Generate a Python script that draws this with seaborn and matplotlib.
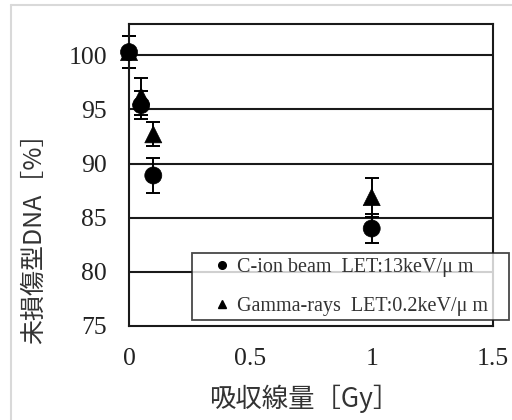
import pandas as pd
import seaborn as sns
from matplotlib import pyplot as plt
from matplotlib.lines import Line2D

# 吸収線量 [Gy]
dose = [0.0, 0.05, 0.1, 1.0]

# 未損傷型DNA [%]
c_ion = [100.3, 95.4, 88.9, 84.0]
c_ion_err = [1.5, 1.3, 1.6, 1.3]
gamma = [100.3, 96.2, 92.7, 86.9]
gamma_err = [1.5, 1.7, 1.1, 1.8]

series_names = ["C-ion beam  LET:13keV/μ m", "Gamma-rays  LET:0.2keV/μ m"]
x_ticks = [0, 0.5, 1, 1.5]
y_ticks = [75, 80, 85, 90, 95, 100]

df = pd.DataFrame({
    "dose": dose * 2,
    "value": c_ion + gamma,
    "err": c_ion_err + gamma_err,
    "series": [series_names[0]] * len(dose) + [series_names[1]] * len(dose),
})

sns.set_style("white")
plt.rcParams["font.family"] = ["Liberation Serif", "DejaVu Sans"]

fig = plt.figure(figsize=(5.12, 4.2), dpi=100)
ax = fig.add_axes([0.252, 0.224, 0.711, 0.719])

# 横のグリッド線
for yv in y_ticks[1:]:
    ax.axhline(yv, color="#1a1a1a", lw=1.5, zorder=1)

# エラーバー
for name in series_names:
    sub = df[df.series == name]
    ax.errorbar(sub.dose, sub.value, yerr=sub.err, fmt="none", ecolor="black",
                elinewidth=1.4, capsize=5, capthick=1.4, zorder=2, clip_on=False)

sns.scatterplot(data=df, x="dose", y="value", style="series",
                markers={series_names[0]: "o", series_names[1]: "^"},
                color="black", s=150, edgecolor="black", linewidth=0.5,
                ax=ax, zorder=3, legend=False, clip_on=False)

ax.set_xlim(0, 1.5)
ax.set_ylim(75, 102.9)
ax.set_xticks(x_ticks)
ax.set_xticklabels(["0", "0.5", "1", "1.5"])
ax.set_yticks(y_ticks)
ax.tick_params(axis="both", length=0, labelsize=18.5, colors="#222222")
ax.tick_params(axis="y", pad=16)
ax.tick_params(axis="x", pad=16)

for sp in ax.spines.values():
    sp.set_color("#1a1a1a")
    sp.set_linewidth(1.5)

ax.set_xlabel("吸収線量［Gy］", family=["Noto Sans CJK JP"], fontsize=19,
              color="#333333")
ax.xaxis.set_label_coords(0.48, -0.195)
ax.set_ylabel("未損傷型DNA［%］", family=["Noto Sans CJK JP"], fontsize=18,
              color="#333333")
ax.yaxis.set_label_coords(-0.225, 0.31)

handles = [
    Line2D([], [], marker="o", ls="none", color="black", markersize=5.5),
    Line2D([], [], marker="^", ls="none", color="black", markersize=5.5),
]
leg = ax.legend(handles, series_names, loc="lower left",
                bbox_to_anchor=(0.173, 0.02, 0.871, 0.218), mode="expand",
                fontsize=14.5, frameon=True, fancybox=False, borderaxespad=0,
                handletextpad=-0.55, handlelength=2.6, labelspacing=1.0,
                borderpad=0.2)
leg.get_frame().set_edgecolor("#1a1a1a")
leg.get_frame().set_linewidth(1.3)
leg.set_zorder(5)
for t in leg.get_texts():
    t.set_color("#333333")

# グラフ外枠
fig.add_artist(Line2D([11 / 512, 1], [1 - 5 / 420, 1 - 5 / 420],
                      color="#d9d9d9", lw=1.5))
fig.add_artist(Line2D([11 / 512, 11 / 512], [0, 1 - 5 / 420],
                      color="#d9d9d9", lw=1.5))

fig.savefig("out.png", dpi=100)
